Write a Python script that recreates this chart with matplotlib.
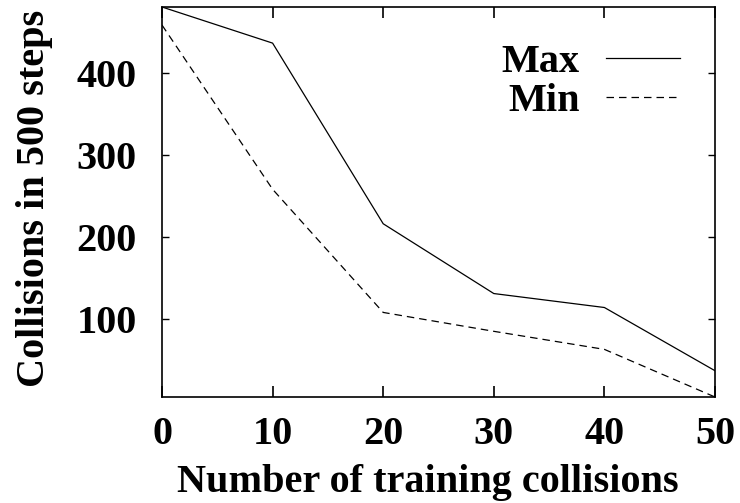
import matplotlib
matplotlib.use("Agg")
import matplotlib.pyplot as plt

x_training = [0, 10, 20, 30, 40, 50]
max_collisions = [480, 436, 216, 131, 114, 37]
min_collisions = [458, 258, 108, 85, 63, 5]
x_ticks = [0, 10, 20, 30, 40, 50]
y_ticks = [100, 200, 300, 400]

plt.rcParams['font.family'] = ['Liberation Serif', 'DejaVu Serif']
plt.rcParams['font.weight'] = 'bold'
FS = 29

fig = plt.figure(figsize=(7.4, 5.03), dpi=100)
ax = fig.add_axes([162/740, 1-397/503, (715-162)/740, (397-7)/503])

ax.plot(x_training, max_collisions, color='black', lw=0.9, label='Max')
ax.plot(x_training, min_collisions, color='black', lw=0.9, ls=(0, (6, 4)), label='Min')

ax.set_xlim(0, 50)
ax.set_ylim(5, 480)
ax.set_xticks(x_ticks)
ax.set_yticks(y_ticks)
ax.tick_params(axis='x', direction='in', top=True, length=8, width=1.2,
               labelsize=FS, pad=14)
ax.tick_params(axis='y', direction='in', right=True, length=5, width=1,
               labelsize=FS, pad=18)
for lab in ax.get_xticklabels() + ax.get_yticklabels():
    lab.set_fontweight('bold')
for s in ax.spines.values():
    s.set_linewidth(1.2)

ax.set_xlabel('Number of training collisions', fontsize=FS, fontweight='bold', va='baseline')
ax.xaxis.set_label_coords(0.48, (397-492)/390)
ax.set_ylabel('Collisions in 500 steps', fontsize=FS, fontweight='bold')
ax.yaxis.set_label_coords((53-162)/553, 0.51)

leg = ax.legend(loc='upper right', bbox_to_anchor=(0.937, 0.905), frameon=False,
                markerfirst=False, handlelength=1.85, handletextpad=0.65,
                borderpad=0, borderaxespad=0, labelspacing=0.05,
                prop={'weight': 'bold', 'size': FS})

fig.savefig('out.png', dpi=100)
